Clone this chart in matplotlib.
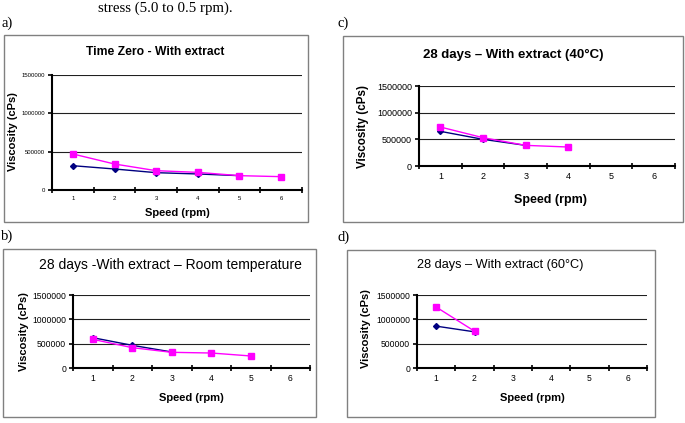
import matplotlib
matplotlib.use("Agg")
import matplotlib.pyplot as plt
from matplotlib.patches import Rectangle

W, H = 685, 423

speed = [1, 2, 3, 4, 5, 6]
speed_labels = ["1", "2", "3", "4", "5", "6"]
y_ticks = [0, 500000, 1000000, 1500000]
y_tick_labels = ["0", "500000", "1000000", "1500000"]

# a) Time zero
a_blue = [317000, 274000, 226000, 209000, 187000]
a_pink = [470000, 339000, 252000, 230000, 187000, 174000]
# b) 28 days room temperature
b_blue = [623000, 466000, 329000]
b_pink = [589000, 418000, 322000, 308000, 247000]
# c) 28 days 40 C
c_blue = [650000, 500000, 387000]
c_pink = [731000, 531000, 387000, 356000]
# d) 28 days 60 C
d_blue = [860000, 743000]
d_pink = [1252000, 757000]

BLUE = "#000080"
PINK = "#FF00FF"
SANS = "Liberation Sans"
SERIF = "Liberation Serif"

fig = plt.figure(figsize=(W / 100, H / 100), dpi=100)
fig.patch.set_facecolor("white")


def fx(x):
    return x / W


def fy(y):
    return 1 - y / H


def box(x0, y0, x1, y1):
    fig.patches.append(Rectangle((fx(x0), fy(y1)), fx(x1 - x0), (y1 - y0) / H,
                                 transform=fig.transFigure, fill=False,
                                 edgecolor="#808080", linewidth=1.0))


def panel(rect, blue, pink, title, tpos, tbold, tsize, xlpos, ylpos, lblsize,
          ticksize, xlblsize=None):
    x0, y0, x1, y1 = rect
    ax = fig.add_axes([fx(x0), fy(y1), fx(x1 - x0), (y1 - y0) / H])
    ax.set_xlim(0.5, 6.5)
    ax.set_ylim(0, 1500000)
    ax.set_yticks(y_ticks)
    ax.set_yticklabels(y_tick_labels, fontsize=ticksize, family=SANS)
    ax.set_xticks(speed)
    ax.set_xticklabels(speed_labels, fontsize=ticksize, family=SANS)
    ax.tick_params(axis="x", length=0, pad=4)
    ax.set_xticks([i + 0.5 for i in range(0, 7)], minor=True)
    ax.tick_params(axis="x", which="minor", length=4, direction="inout", width=1.2)
    ax.tick_params(axis="y", length=3, direction="out", width=1.2, pad=2)
    for s in ("top", "right"):
        ax.spines[s].set_visible(False)
    for s in ("left", "bottom"):
        ax.spines[s].set_linewidth(1.5)
    ax.grid(axis="y", color="#202020", linewidth=0.8)
    ax.set_axisbelow(True)
    ax.plot(speed[:len(blue)], blue, color=BLUE, marker="D", markersize=3,
            linewidth=1.0, zorder=3)
    ax.plot(speed[:len(pink)], pink, color=PINK, marker="s", markersize=4,
            linewidth=1.0, zorder=4)
    fig.text(fx(tpos[0]), fy(tpos[1]), title, ha="center", va="center",
             fontsize=tsize, family=SANS, fontweight="bold" if tbold else "normal")
    fig.text(fx(xlpos[0]), fy(xlpos[1]), "Speed (rpm)", ha="center", va="center",
             fontsize=xlblsize or lblsize, family=SANS, fontweight="bold")
    fig.text(fx(ylpos[0]), fy(ylpos[1]), "Viscosity (cPs)", ha="center", va="center",
             rotation=90, fontsize=lblsize, family=SANS, fontweight="bold")
    return ax


# header text
fig.text(fx(165), fy(8), "stress (5.0 to 0.5 rpm).", ha="center", va="center",
         fontsize=10.7, family=SERIF)
fig.text(fx(1), fy(23), "a)", ha="left", va="center", fontsize=10.5, family=SERIF)
fig.text(fx(337), fy(23), "c)", ha="left", va="center", fontsize=10.5, family=SERIF)
fig.text(fx(1), fy(236), "b)", ha="left", va="center", fontsize=10.5, family=SERIF)
fig.text(fx(337), fy(237), "d)", ha="left", va="center", fontsize=10.5, family=SERIF)

box(4, 35, 308, 222)
box(343, 36, 683, 222)
box(3, 249, 316, 417)
box(347, 250, 655, 417)

panel((52, 75, 302, 190), a_blue, a_pink, "Time Zero - With extract", (155, 52),
      True, 8.7, (177, 213), (13, 132), 8, 4.3)
panel((419, 86, 675, 166), c_blue, c_pink, "28 days \u2013 With extract (40\u00b0C)",
      (513, 55), True, 9.5, (550, 200), (363, 127), 8.4, 6.5, xlblsize=9)
panel((73, 295, 310, 368), b_blue, b_pink,
      "28 days -With extract \u2013 Room temperature", (170, 265), False, 10,
      (191, 398), (24, 332), 8, 6.2)
panel((417, 295, 647, 368), d_blue, d_pink, "28 days \u2013 With extract (60\u00b0C)",
      (500, 265), False, 9.2, (532, 398), (366, 329), 8, 6.2)

fig.savefig("out.png", dpi=100)
